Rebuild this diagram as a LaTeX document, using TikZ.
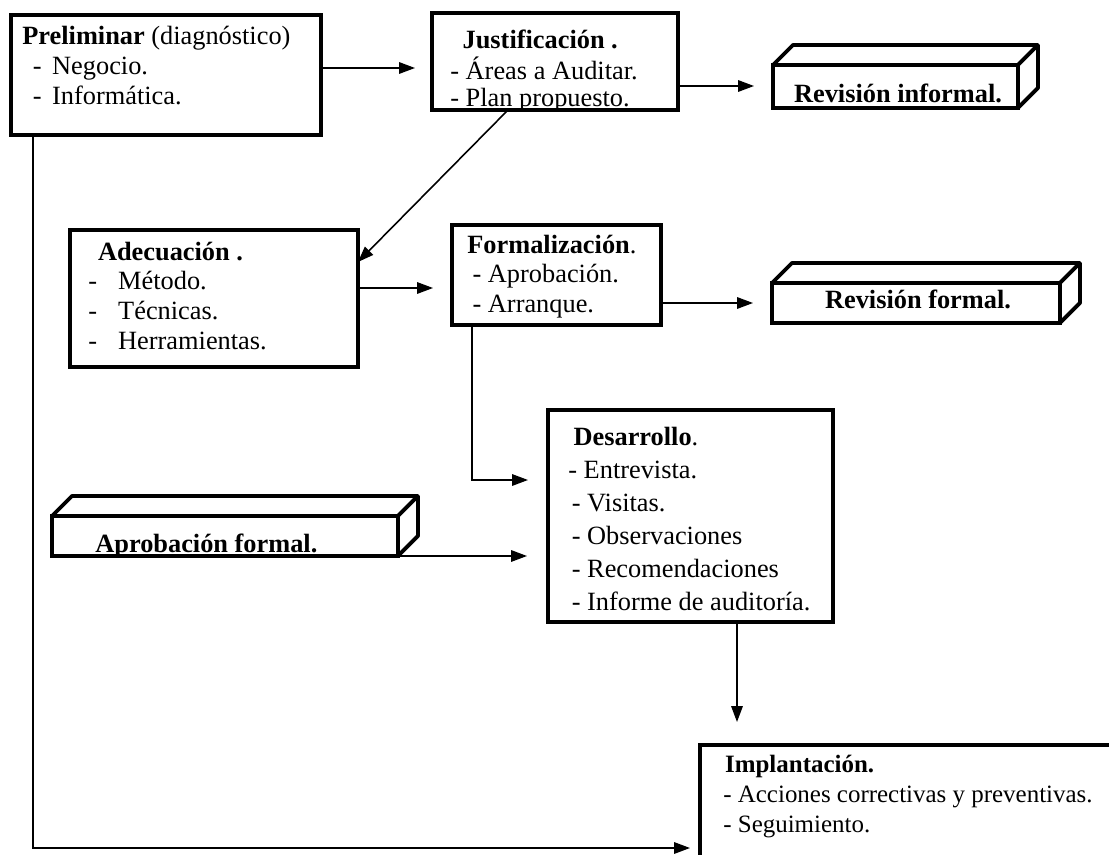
\documentclass[tikz,border=0pt]{standalone}
\usepackage{fontspec}
\setmainfont{Liberation Serif}
\usetikzlibrary{arrows.meta,calc}

\newcommand{\boxlines}[1]{\begin{tabular}[t]{@{}l@{}}#1\end{tabular}}

\begin{document}
\begin{tikzpicture}[x=0.02cm,y=-0.02cm,>={Triangle[length=9pt,width=6.5pt]},
  box/.style={draw,line width=2.2pt,anchor=north west,inner sep=0pt,outer sep=0pt},
  slab/.style={line width=2.2pt,line join=round},
  txt/.style={anchor=base west,inner sep=0pt,font=\fontsize{15}{17}\selectfont},
  lbl/.style={anchor=base,inner sep=0pt,font=\fontsize{15}{17}\selectfont\bfseries},
  arr/.style={->,line width=0.9pt,shorten >=0.38cm}]
\useasboundingbox (0,0) rectangle (1109,855);
\clip (0,0) rectangle (1109,855);

% cajas
\node[box,minimum width=6.2cm,minimum height=2.4cm] (pre) at (11,15) {};
\node[box,minimum width=4.92cm,minimum height=1.94cm] (jus) at (432,13) {};
\node[box,minimum width=5.76cm,minimum height=2.74cm] (ade) at (70,230) {};
\node[box,minimum width=4.18cm,minimum height=2cm] (for) at (452,225) {};
\node[box,minimum width=5.7cm,minimum height=4.24cm] (des) at (548,410) {};
\node[box,minimum width=8.8cm,minimum height=2.9cm] (imp) at (700,745) {};
% revisiones (cajas en 3D)
\node[box,minimum width=4.9cm,minimum height=0.86cm] (rinf) at (773,65) {};
\node[box,minimum width=5.76cm,minimum height=0.8cm] (rfor) at (772,283) {};
\node[box,minimum width=6.92cm,minimum height=0.8cm] (apf) at (52,516) {};
\foreach \n in {rinf,rfor,apf}{
  \draw[slab] (\n.north west) -- ++(20,-20) -- ($(\n.north east)+(20,-20)$)
    -- ($(\n.south east)+(20,-20)$) -- (\n.south east);
  \draw[slab] (\n.north east) -- ++(20,-20);
}

% textos
\node[txt] (pre-t) at (22,45) {\boxlines{\textbf{Preliminar} (diagnóstico)\\
  \hspace{6pt}-\hspace{6pt}Negocio.\\ \hspace{6pt}-\hspace{6pt}Informática.}};
\node[txt,font=\fontsize{15}{15.2}\selectfont] (jus-t) at (450,49) {\boxlines{\hspace{7pt}\textbf{Justificación .}\\
  - Áreas a Auditar.\\ - Plan propuesto.}};
\node[txt] (ade-t) at (88,260) {\boxlines{\hspace{5.5pt}\textbf{Adecuación .}\\
  -\hspace{12pt}Método.\\ -\hspace{12pt}Técnicas.\\ -\hspace{12pt}Herramientas.}};
\node[txt,font=\fontsize{15}{16.8}\selectfont] (for-t) at (467,253) {\boxlines{\textbf{Formalización}.\\
  \hspace{3pt}- Aprobación.\\ \hspace{3pt}- Arranque.}};
\node[txt,font=\fontsize{15}{18.8}\selectfont] (des-t) at (568,445) {\boxlines{\hspace{3pt}\textbf{Desarrollo}.\\
  - Entrevista.\\ \hspace{2pt}- Visitas.\\ \hspace{2pt}- Observaciones\\ \hspace{2pt}- Recomendaciones\\
  \hspace{2pt}- Informe de auditoría.}};
\node[txt,font=\fontsize{14.2}{17.3}\selectfont] (imp-t) at (723,772) {\boxlines{\hspace{1pt}\textbf{Implantación.}\\
  - Acciones correctivas y preventivas.\\ - Seguimiento.}};
\node[lbl] (rinf-t) at (898,103) {Revisión informal.};
\node[lbl] (rfor-t) at (918,308) {Revisión formal.};
\node[lbl,anchor=base west] (apf-t) at (95,552) {Aprobación formal.};

% flechas
\draw[arr,shorten >=0.34cm] (pre.east |- 0,68) -- (jus.west |- 0,68);
\draw[arr] (jus.east |- 0,86) -- (rinf.west |- 0,86);
\draw[arr,shorten >=0pt] (508,0 |- jus.south) -- (ade.east |- 0,262);
\draw[arr] (ade.east |- 0,288) -- (for.west |- 0,288);
\draw[arr] (for.east |- 0,303) -- (rfor.west |- 0,303);
\draw[arr,shorten >=0.4cm] (472,0 |- for.south) |- (des.west |- 0,480);
\draw[arr,shorten >=0.42cm] (apf.south east) -- (des.west |- apf.south east);
\draw[arr,shorten >=0.46cm] (737,0 |- des.south) -- (737,0 |- imp.north);
\draw[arr,shorten >=0.2cm] (33,0 |- pre.south) |- (imp.west |- 0,848);
\end{tikzpicture}
\end{document}
